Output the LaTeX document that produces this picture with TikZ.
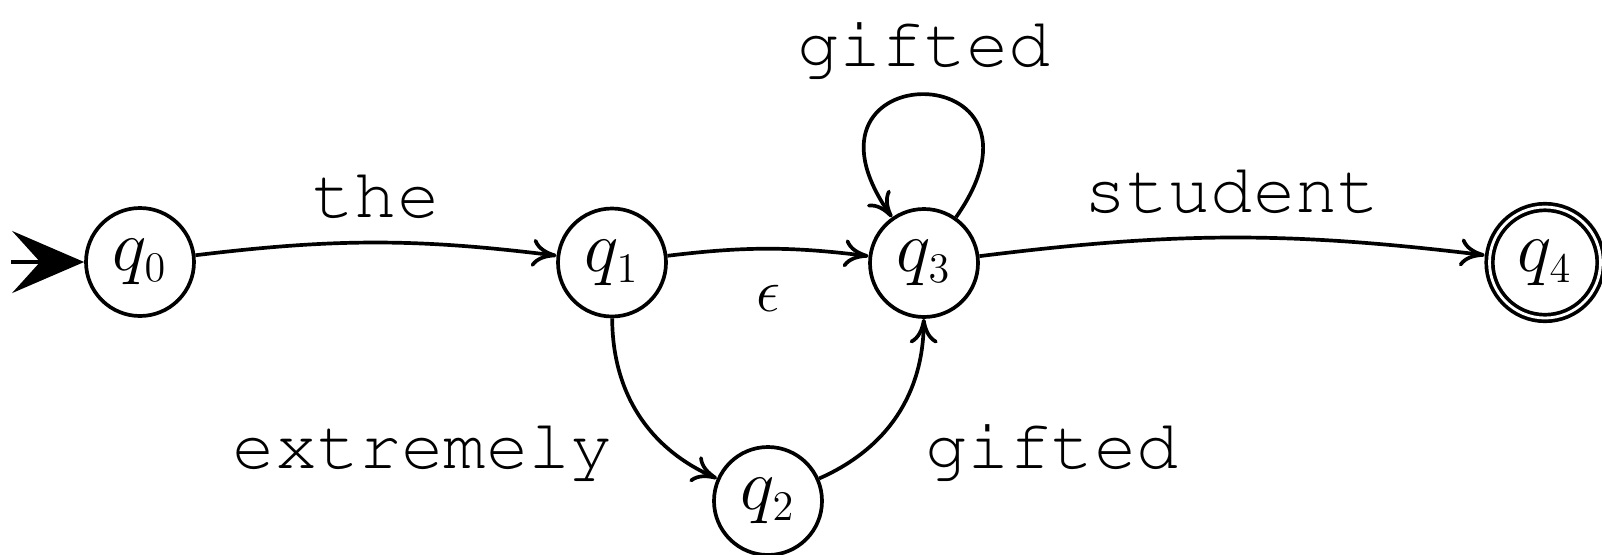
\documentclass[tikz,border=0pt]{standalone}
\usepackage[T1]{fontenc}
\renewcommand{\ttdefault}{pcr}
\DeclareMathSizes{20}{20}{12}{8}
\usetikzlibrary{arrows.meta,positioning}

\begin{document}
\begin{tikzpicture}[
  font=\fontsize{20}{24}\selectfont,
  qstate/.style={circle,draw,line width=1.05pt,minimum size=1.08cm,inner sep=0pt},
  qaccept/.style={qstate,double,double distance=0.8pt,minimum size=1.11cm,outer sep=1.5pt},
  trans/.style={line width=1.05pt,-{To[length=7pt,width=8pt]}},
  word/.style={font=\fontsize{20}{24}\selectfont\ttfamily}
]
  \useasboundingbox (0,0) rectangle (16.02,-5.54);
  \node[qstate] (q0) at (1.40,-2.62) {$q_0$};
  \node[qstate] (q1) at (6.12,-2.625) {$q_1$};
  \node[qstate] (q2) at (7.68,-5.01) {$q_2$};
  \node[qstate] (q3) at (9.24,-2.63) {$q_3$};
  \node[qaccept] (q4) at (15.45,-2.625) {$q_4$};
  \coordinate[left=0.73cm of q0] (init);
  \draw[line width=1.05pt,-{Stealth[length=7.2mm,width=6.2mm,inset=2.8mm]}] (init) -- (q0);
  \draw[trans] (q0) to[bend left=7] node[above=3pt,word] {the} (q1);
  \draw[trans] (q1) to[bend left=7] node[below=6.5pt,font=\fontsize{18}{22}\selectfont] {$\epsilon$} (q3);
  \draw[trans] (q3) to[bend left=7] node[above=3pt,word] {student} (q4);
  \draw[trans] (q3) to[loop,out=55,in=125,looseness=8] node[above=1pt,word] {gifted} (q3);
  \draw[trans] (q1) to[bend right=33] node[pos=0.75,left=13pt,word] {extremely} (q2);
  \draw[trans] (q2) to[bend right=33] node[pos=0.25,right=13.5pt,word] {gifted} (q3);
\end{tikzpicture}
\end{document}
